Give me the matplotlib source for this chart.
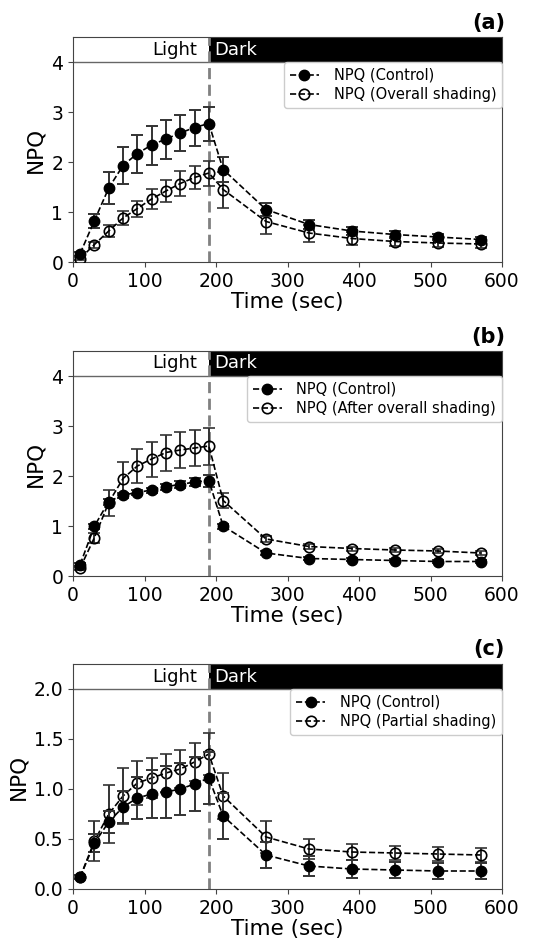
"""
NPQ induction / relaxation curves, three panels (a)-(c).
Control vs shading treatments, light phase then dark phase.
"""

import matplotlib
matplotlib.use('Agg')
import matplotlib.pyplot as plt
from matplotlib.lines import Line2D

# ──────────────────────────────────────────────────────────────────────────────
#  Data
# ──────────────────────────────────────────────────────────────────────────────
TIME = [10, 30, 50, 70, 90, 110, 130, 150, 170, 190,
        210, 270, 330, 390, 450, 510, 570]
LIGHT_END = 190     # light switched off here (sec)
XTICKS = [0, 100, 200, 300, 400, 500, 600]

# (a) control vs overall shading
A_CTRL      = [0.17, 0.83, 1.48, 1.93, 2.17, 2.34, 2.46, 2.58, 2.69, 2.77,
               1.85, 1.05, 0.75, 0.62, 0.55, 0.50, 0.45]
A_CTRL_ERR  = [0.04, 0.14, 0.32, 0.37, 0.38, 0.39, 0.39, 0.36, 0.36, 0.34,
               0.25, 0.13, 0.09, 0.08, 0.07, 0.06, 0.05]
A_SHADE     = [0.07, 0.35, 0.62, 0.88, 1.07, 1.26, 1.42, 1.57, 1.69, 1.78,
               1.45, 0.81, 0.58, 0.47, 0.41, 0.38, 0.36]
A_SHADE_ERR = [0.03, 0.06, 0.12, 0.14, 0.16, 0.20, 0.22, 0.25, 0.23, 0.25,
               0.36, 0.24, 0.17, 0.13, 0.09, 0.08, 0.07]

# (b) control vs after overall shading
B_CTRL      = [0.23, 1.00, 1.49, 1.62, 1.67, 1.72, 1.79, 1.83, 1.88, 1.91,
               1.00, 0.46, 0.35, 0.33, 0.31, 0.29, 0.29]
B_CTRL_ERR  = [0.03, 0.05, 0.06, 0.05, 0.05, 0.05, 0.06, 0.07, 0.08, 0.12,
               0.05, 0.04, 0.03, 0.03, 0.03, 0.03, 0.03]
B_SHADE     = [0.16, 0.77, 1.47, 1.95, 2.20, 2.34, 2.47, 2.52, 2.56, 2.60,
               1.51, 0.74, 0.59, 0.55, 0.52, 0.50, 0.46]
B_SHADE_ERR = [0.03, 0.10, 0.26, 0.33, 0.34, 0.35, 0.36, 0.36, 0.36, 0.37,
               0.15, 0.06, 0.05, 0.04, 0.04, 0.04, 0.04]

# (c) control vs partial shading
C_CTRL      = [0.12, 0.46, 0.67, 0.82, 0.91, 0.95, 0.97, 1.00, 1.05, 1.11,
               0.73, 0.34, 0.23, 0.20, 0.19, 0.18, 0.18]
C_CTRL_ERR  = [0.02, 0.09, 0.11, 0.16, 0.21, 0.24, 0.26, 0.26, 0.27, 0.26,
               0.23, 0.13, 0.10, 0.09, 0.08, 0.08, 0.08]
C_SHADE     = [0.12, 0.48, 0.75, 0.93, 1.06, 1.11, 1.16, 1.20, 1.27, 1.35,
               0.93, 0.52, 0.40, 0.37, 0.36, 0.35, 0.34]
C_SHADE_ERR = [0.02, 0.20, 0.29, 0.28, 0.22, 0.20, 0.19, 0.19, 0.19, 0.21,
               0.23, 0.16, 0.10, 0.08, 0.07, 0.07, 0.07]

SPINE = '#444444'
MS = 7.5


# ──────────────────────────────────────────────────────────────────────────────
#  One panel
# ──────────────────────────────────────────────────────────────────────────────
def draw_panel(ax, ctrl, ctrl_err, shade, shade_err, shade_label,
               band_lo, ymax, yticks, tag):
    ax.errorbar(TIME, ctrl, yerr=ctrl_err, fmt='o', ls='--', color='black',
                lw=1.2, ms=MS, mfc='black', mec='black',
                ecolor='#333333', elinewidth=1.4, capsize=4, capthick=1.4,
                zorder=4)
    ax.errorbar(TIME, shade, yerr=shade_err, fmt='o', ls='--', color='black',
                lw=1.2, ms=MS, mfc='none', mec='black', mew=1.2,
                ecolor='#333333', elinewidth=1.4, capsize=4, capthick=1.4,
                zorder=3)

    # light / dark header band
    ax.fill_between([LIGHT_END, 600], band_lo, ymax, color='black', lw=0, zorder=1)
    ax.axhline(band_lo, color='#666666', lw=1.0, zorder=1)
    mid = (band_lo + ymax) / 2
    ax.text(LIGHT_END - 16, mid, 'Light', ha='right', va='center', fontsize=13)
    ax.text(LIGHT_END + 8, mid, 'Dark', ha='left', va='center', fontsize=13,
            color='white')
    ax.axvline(LIGHT_END, color='#808080', lw=2, ls=(0, (4, 2)), zorder=2)

    ax.set_xlim(0, 600)
    ax.set_ylim(0, ymax)
    ax.set_xticks(XTICKS)
    ax.set_yticks(yticks)
    ax.tick_params(labelsize=13.5, color=SPINE, length=3.5)
    for spine in ax.spines.values():
        spine.set_edgecolor(SPINE)

    ax.set_xlabel('Time (sec)', fontsize=15.5, labelpad=1)
    ax.set_ylabel('NPQ', fontsize=15.5, labelpad=4)

    # legend handles without the error bars, as in the original
    handles = [
        Line2D([], [], color='black', ls='--', lw=1.2, marker='o', ms=MS,
               mfc='black', mec='black'),
        Line2D([], [], color='black', ls='--', lw=1.2, marker='o', ms=MS,
               mfc='none', mec='black', mew=1.2),
    ]
    ax.legend(handles, ['NPQ (Control)', shade_label],
              loc='upper right', bbox_to_anchor=(1.0, band_lo / ymax),
              borderaxespad=0, fontsize=10.5, labelspacing=0.3,
              handlelength=2.0, handletextpad=1.0,
              edgecolor='#cccccc', framealpha=1)

    ax.text(1.007, 1.02, tag, transform=ax.transAxes, ha='right', va='bottom',
            fontsize=15, fontweight='bold')


# ──────────────────────────────────────────────────────────────────────────────
#  Figure
# ──────────────────────────────────────────────────────────────────────────────
def main():
    fig = plt.figure(figsize=(5.39, 9.42), dpi=100)
    left, width = 73 / 539, 429 / 539
    height = 225 / 942

    ax_a = fig.add_axes([left, (942 - 262) / 942, width, height])
    ax_b = fig.add_axes([left, (942 - 576) / 942, width, height])
    ax_c = fig.add_axes([left, (942 - 889) / 942, width, height])

    draw_panel(ax_a, A_CTRL, A_CTRL_ERR, A_SHADE, A_SHADE_ERR,
               'NPQ (Overall shading)', 4, 4.5, [0, 1, 2, 3, 4], '(a)')
    draw_panel(ax_b, B_CTRL, B_CTRL_ERR, B_SHADE, B_SHADE_ERR,
               'NPQ (After overall shading)', 4, 4.5, [0, 1, 2, 3, 4], '(b)')
    draw_panel(ax_c, C_CTRL, C_CTRL_ERR, C_SHADE, C_SHADE_ERR,
               'NPQ (Partial shading)', 2.0, 2.25,
               [0.0, 0.5, 1.0, 1.5, 2.0], '(c)')

    fig.savefig('out.png', dpi=100)
    plt.close(fig)


if __name__ == '__main__':
    main()
